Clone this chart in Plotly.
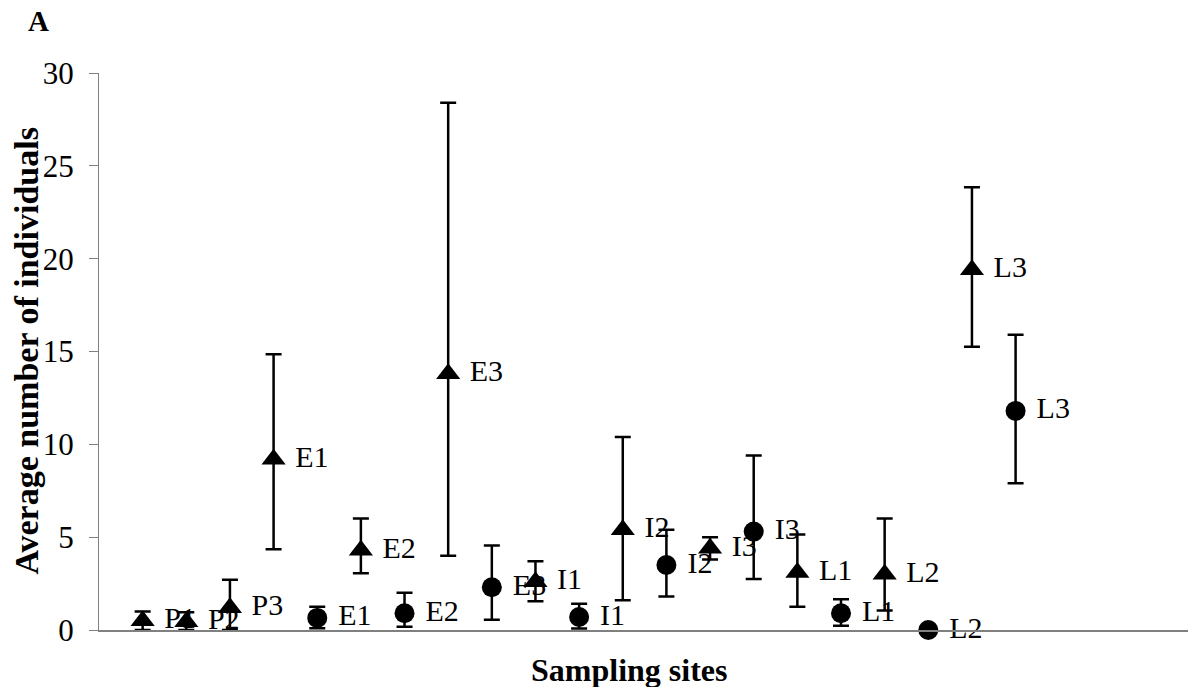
import plotly.graph_objects as go

# Site order along the x axis (position index) for each group
tri_labels = ["P1", "P2", "P3", "E1", "E2", "E3", "I1", "I2", "I3", "L1", "L2", "L3"]
tri_pos = [1, 2, 3, 4, 6, 8, 10, 12, 14, 16, 18, 20]
tri_mean = [0.5, 0.45, 1.2, 9.2, 4.3, 13.8, 2.6, 5.4, 4.4, 3.1, 3.0, 19.4]
tri_err_up = [0.5, 0.5, 1.5, 5.65, 1.7, 14.6, 1.1, 5.0, 0.6, 2.05, 3.0, 4.45]
tri_err_down = [0.5, 0.45, 1.2, 4.85, 1.25, 9.8, 1.05, 3.8, 0.6, 1.85, 1.95, 4.15]

circ_labels = ["E1", "E2", "E3", "I1", "I2", "I3", "L1", "L2", "L3"]
circ_pos = [5, 7, 9, 11, 13, 15, 17, 19, 21]
circ_mean = [0.65, 0.9, 2.3, 0.7, 3.5, 5.3, 0.9, 0.0, 11.8]
circ_err_up = [0.6, 1.1, 2.25, 0.72, 1.9, 4.1, 0.75, 0.0, 4.1]
circ_err_down = [0.55, 0.72, 1.75, 0.62, 1.7, 2.55, 0.67, 0.0, 3.9]

y_ticks = [0, 5, 10, 15, 20, 25, 30]

SERIF = "Liberation Serif"

points = []
for lab, x, m, up, dn in zip(tri_labels, tri_pos, tri_mean, tri_err_up, tri_err_down):
    points.append((x, lab, m, up, dn, "triangle-up", 21))
for lab, x, m, up, dn in zip(circ_labels, circ_pos, circ_mean, circ_err_up, circ_err_down):
    points.append((x, lab, m, up, dn, "circle", 20))
points.sort(key=lambda p: p[0])

fig = go.Figure()
for x, lab, m, up, dn, sym, size in points:
    fig.add_trace(go.Scatter(
        x=[x], y=[m],
        mode="markers+text",
        text=["\u00a0" + lab],
        textposition="middle right",
        textfont=dict(family=SERIF, size=30, color="black"),
        marker=dict(symbol=sym, size=size, color="black", line=dict(width=0)),
        error_y=dict(type="data", symmetric=False, array=[up], arrayminus=[dn],
                     color="black", thickness=2.5, width=8),
        cliponaxis=False,
        showlegend=False,
        hoverinfo="skip",
    ))

fig.update_layout(
    width=1188, height=687,
    margin=dict(l=99, r=0, t=73, b=57),
    paper_bgcolor="white", plot_bgcolor="white",
    font=dict(family=SERIF, color="black"),
    xaxis=dict(range=[0, 24.95], showline=True, linecolor="#808080", linewidth=2,
               showgrid=False, zeroline=False, showticklabels=False, ticks=""),
    yaxis=dict(range=[0, 30], tickvals=y_ticks, showline=True, linecolor="#808080",
               linewidth=1, ticks="outside", ticklen=9, tickcolor="#808080",
               tickfont=dict(family=SERIF, size=31, color="black"),
               ticklabelstandoff=9, showgrid=False, zeroline=False),
    annotations=[
        dict(text="<b>A</b>", xref="paper", yref="paper",
             x=(38 - 99) / 1089, y=1 + (73 - 21) / 557, xanchor="center", yanchor="middle",
             showarrow=False, font=dict(family=SERIF, size=29, color="black")),
        dict(text="<b>Average number of individuals</b>", xref="paper", yref="paper",
             x=(26 - 99) / 1089, y=0.5, xanchor="center", yanchor="middle", textangle=-90,
             showarrow=False, font=dict(family=SERIF, size=34, color="black")),
        dict(text="<b>Sampling sites</b>", xref="paper", yref="paper",
             x=(629 - 99) / 1089, y=-(670 - 630) / 557, xanchor="center", yanchor="middle",
             showarrow=False, font=dict(family=SERIF, size=32, color="black")),
    ],
)

fig.write_html("out.html")
